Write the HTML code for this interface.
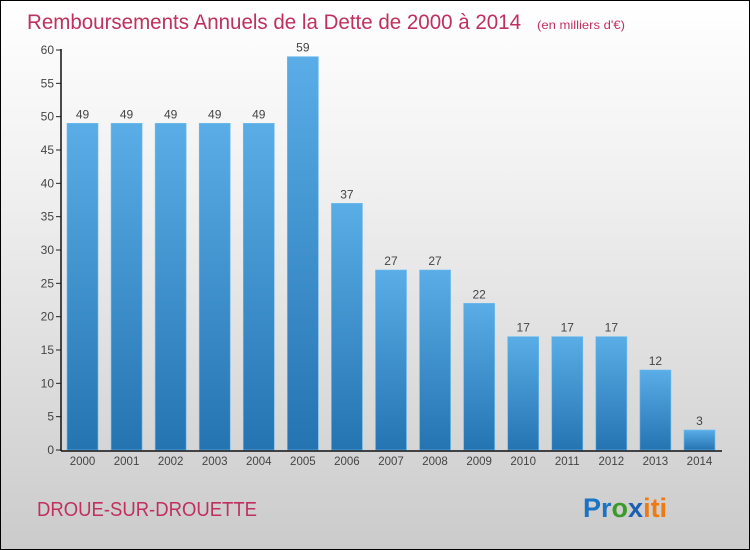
<!DOCTYPE html>
<html><head><meta charset="utf-8"><style>
body{margin:0;}
#c{width:748px;height:548px;border:1px solid #000;position:relative;background:linear-gradient(#fff,#f2f2f2 30%,#d9d9d9 75%,#cbcbcb);font-family:"Liberation Sans",sans-serif;overflow:hidden}
</style></head><body>
<div id="c">
<svg id="s" width="748" height="548">
<defs><linearGradient id="g" x1="0" y1="0" x2="0" y2="1"><stop offset="0" stop-color="#5aade6"/><stop offset="1" stop-color="#2474b2"/></linearGradient></defs>
<text x="26" y="28" font-size="21" fill="#c0305e" textLength="494" lengthAdjust="spacingAndGlyphs">Remboursements Annuels de la Dette de 2000 à 2014</text>
<text x="536" y="28" font-size="12" fill="#c0305e" textLength="88" lengthAdjust="spacingAndGlyphs">(en milliers d'€)</text>
<text x="36" y="515" font-size="20" fill="#c0305e" textLength="220" lengthAdjust="spacingAndGlyphs">DROUE-SUR-DROUETTE</text>
<text x="582" y="516" font-size="27" font-weight="bold"><tspan fill="#1a73c4">Pr</tspan><tspan fill="#3a9a2a">o</tspan><tspan fill="#1a5fb4">x</tspan><tspan fill="#f07a10">iti</tspan></text>
<g id="plot"></g>
</svg>
</div>
<script>
const years=["2000","2001","2002","2003","2004","2005","2006","2007","2008","2009","2010","2011","2012","2013","2014"];
const values=[49,49,49,49,49,59,37,27,27,22,17,17,17,12,3];
const ticks=[0,5,10,15,20,25,30,35,40,45,50,55,60];
const ns="http://www.w3.org/2000/svg";
const p=document.getElementById('plot');
const y=v=>449-v*400/60;
const x=i=>66+i*44.07;
function mk(t,a){const e=document.createElementNS(ns,t);for(const k in a)e.setAttribute(k,a[k]);p.appendChild(e);return e;}
ticks.forEach(t=>{
 const l=mk('line',{x1:55,x2:60,y1:y(t),y2:y(t),stroke:'#222'});
 
 
 const tx=mk('text',{x:53,y:y(t)+4,'text-anchor':'end','font-size':12,fill:'#444'});tx.textContent=t;
 
 
});
values.forEach((v,i)=>{
 const r=mk('rect',{x:x(i),y:y(v),width:31,height:y(0)-y(v),fill:'url(#g)',stroke:'#6cbcf0','stroke-width':0.6});
 
 
 const t=mk('text',{x:x(i)+15.5,y:y(v)-5,'text-anchor':'middle','font-size':12,fill:'#444'});t.textContent=v;
 
 
 const xl=mk('text',{x:x(i)+15.5,y:y(0)+15,'text-anchor':'middle','font-size':11.5,fill:'#444'});xl.textContent=years[i];
 
 
});
const ya=mk('line',{x1:60,x2:60,y1:y(60)-1,y2:y(0)+1,stroke:'#111','stroke-width':1.5});


const xa=mk('line',{x1:60,x2:721,y1:y(0)+1,y2:y(0)+1,stroke:'#111','stroke-width':1.5});


</script>
</body></html>
